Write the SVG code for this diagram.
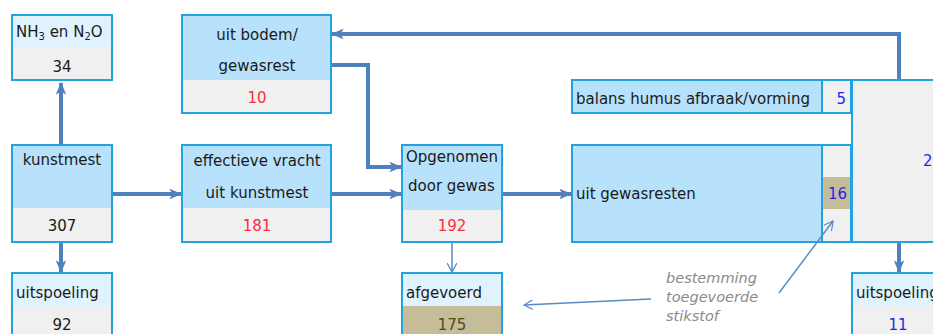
<svg xmlns="http://www.w3.org/2000/svg" width="933" height="334" viewBox="0 0 933 334">
  <style>
    text { font-family: "DejaVu Sans", "Liberation Sans", sans-serif; font-size: 15px; fill: #1a1a1a; }
    .box { stroke: #22a3e0; stroke-width: 2; }
    .blue { fill: #b8e1fb; }
    .pale { fill: #dff2fd; }
    .grey { fill: #f0f0f0; }
    .khaki { fill: #c4bd97; }
    .red { fill: #ff2d3a; }
    .num { fill: #2a1ff0; }
    .olive { fill: #4a4a22; }
    .flow { fill: none; stroke: #4f81bd; stroke-width: 4; }
    .thin { fill: none; stroke: #5a8ac6; stroke-width: 1.5; }
    .note { font-style: italic; fill: #8a8a8a; font-size: 14.5px; }
    .c { text-anchor: middle; }
  </style>
  <defs>
    <marker id="head" viewBox="0 0 12 10" refX="11" refY="5" markerWidth="3.2" markerHeight="2.7" orient="auto" markerUnits="strokeWidth">
      <path d="M0,0 L12,5 L0,10 L3,5 Z" fill="#4f81bd"/>
    </marker>
    <marker id="open" viewBox="0 0 12 12" refX="11" refY="6" markerWidth="10" markerHeight="10" orient="auto" markerUnits="userSpaceOnUse">
      <path d="M0,0 L11,6 L0,12" fill="none" stroke="#5a8ac6" stroke-width="1.5"/>
    </marker>
  </defs>

  <g id="nh3">
    <rect class="pale" x="12" y="15" width="100" height="32"/>
    <rect class="grey" x="12" y="47" width="100" height="33"/>
    <rect class="box" x="12" y="15" width="100" height="65" fill="none"/>
    <text x="16" y="37">NH<tspan font-size="10" dy="3">3</tspan><tspan dy="-3"> en N</tspan><tspan font-size="10" dy="3">2</tspan><tspan dy="-3">O</tspan></text>
    <text class="c" x="62" y="72">34</text>
  </g>

  <g id="kunstmest">
    <rect class="blue" x="12" y="145" width="100" height="63"/>
    <rect class="grey" x="12" y="208" width="100" height="34"/>
    <rect class="box" x="12" y="145" width="100" height="97" fill="none"/>
    <text class="c" x="62" y="165">kunstmest</text>
    <text class="c" x="62" y="231">307</text>
  </g>

  <g id="uitspoeling-links">
    <rect class="pale" x="12" y="273" width="100" height="33"/>
    <rect class="grey" x="12" y="306" width="100" height="30"/>
    <rect class="box" x="12" y="273" width="100" height="70" fill="none"/>
    <text x="16" y="298">uitspoeling</text>
    <text class="c" x="62" y="330">92</text>
  </g>

  <g id="uit-bodem">
    <rect class="blue" x="182" y="15" width="149" height="65"/>
    <rect class="grey" x="182" y="80" width="149" height="33"/>
    <rect class="box" x="182" y="15" width="149" height="98" fill="none"/>
    <text class="c" x="257" y="40">uit bodem/</text>
    <text class="c" x="257" y="71">gewasrest</text>
    <text class="c red" x="257" y="103">10</text>
  </g>

  <g id="effectieve-vracht">
    <rect class="blue" x="182" y="145" width="149" height="63"/>
    <rect class="grey" x="182" y="208" width="149" height="34"/>
    <rect class="box" x="182" y="145" width="149" height="97" fill="none"/>
    <text class="c" x="257" y="166">effectieve vracht</text>
    <text class="c" x="257" y="198">uit kunstmest</text>
    <text class="c red" x="257" y="231">181</text>
  </g>

  <g id="opgenomen">
    <rect class="blue" x="402" y="145" width="100" height="65"/>
    <rect class="grey" x="402" y="210" width="100" height="32"/>
    <rect class="box" x="402" y="145" width="100" height="97" fill="none"/>
    <text x="406" y="162">Opgenomen</text>
    <text x="408" y="191">door gewas</text>
    <text class="c red" x="452" y="231">192</text>
  </g>

  <g id="afgevoerd">
    <rect class="pale" x="402" y="273" width="100" height="33"/>
    <rect class="khaki" x="402" y="306" width="100" height="30"/>
    <rect class="box" x="402" y="273" width="100" height="70" fill="none"/>
    <text x="406" y="298">afgevoerd</text>
    <text class="c olive" x="452" y="330">175</text>
  </g>

  <g id="balans-humus">
    <rect class="blue box" x="572" y="80" width="250" height="33"/>
    <rect class="grey box" x="822" y="80" width="29" height="33"/>
    <text x="576" y="104">balans humus afbraak/vorming</text>
    <text class="num" x="846" y="104" text-anchor="end">5</text>
  </g>

  <g id="uit-gewasresten">
    <rect class="blue box" x="572" y="145" width="250" height="97"/>
    <rect class="grey box" x="822" y="145" width="29" height="97"/>
    <rect class="khaki" x="823" y="177" width="27" height="32"/>
    <text x="576" y="199">uit gewasresten</text>
    <text class="num" x="847" y="199" text-anchor="end">16</text>
  </g>

  <g id="totaal">
    <rect class="grey box" x="852" y="80" width="90" height="162"/>
    <text class="num" x="923" y="166">21</text>
  </g>

  <g id="uitspoeling-rechts">
    <rect class="pale" x="852" y="273" width="90" height="33"/>
    <rect class="grey" x="852" y="306" width="90" height="30"/>
    <rect class="box" x="852" y="273" width="90" height="70" fill="none"/>
    <text x="856" y="298">uitspoeling</text>
    <text class="c num" x="898" y="330">11</text>
  </g>

  <g id="toelichting">
    <text class="note" x="666" y="283">bestemming</text>
    <text class="note" x="666" y="302">toegevoerde</text>
    <text class="note" x="666" y="321">stikstof</text>
  </g>

  <!-- connectors, drawn last so they sit on top of the boxes -->
  <g id="connectors">
    <line class="flow" x1="61" y1="144" x2="61" y2="83" marker-end="url(#head)"/>
    <line class="flow" x1="61" y1="243" x2="61" y2="272" marker-end="url(#head)"/>
    <line class="flow" x1="113" y1="194" x2="181" y2="194" marker-end="url(#head)"/>
    <line class="flow" x1="332" y1="194" x2="401" y2="194" marker-end="url(#head)"/>
    <polyline class="flow" points="332,65 368,65 368,167 401,167" marker-end="url(#head)"/>
    <polyline class="flow" points="899,79 899,34 332,34" marker-end="url(#head)"/>
    <line class="flow" x1="503" y1="194" x2="571" y2="194" marker-end="url(#head)"/>
    <line class="flow" x1="899" y1="243" x2="899" y2="272" marker-end="url(#head)"/>
    <line class="thin" x1="452" y1="243" x2="452" y2="272" marker-end="url(#open)"/>
    <line class="thin" x1="651" y1="299" x2="524" y2="305" marker-end="url(#open)"/>
    <line class="thin" x1="779" y1="293" x2="833" y2="221" marker-end="url(#open)"/>
  </g>
</svg>
